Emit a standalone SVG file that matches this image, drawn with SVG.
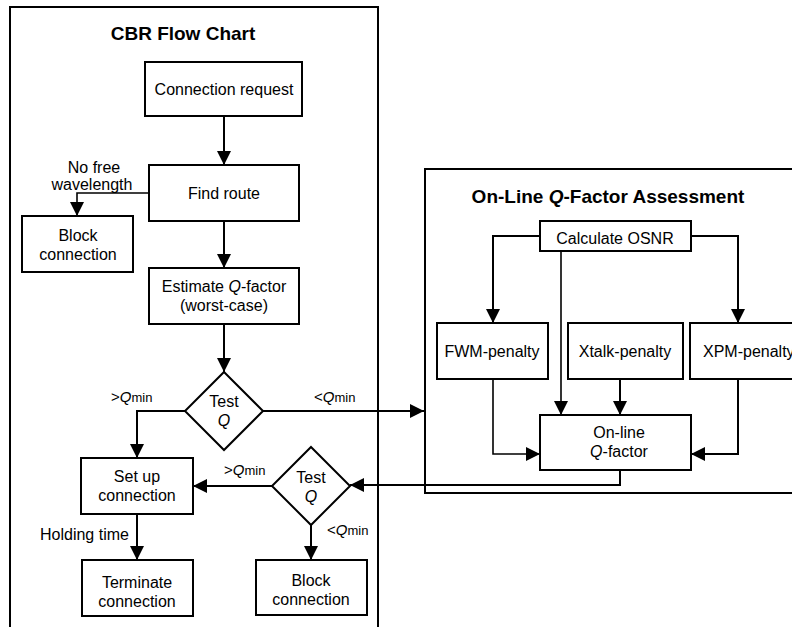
<svg xmlns="http://www.w3.org/2000/svg" width="792" height="627" viewBox="0 0 792 627">
<style>
.bx{fill:#fff;stroke:#000;stroke-width:2}
.fr{fill:none;stroke:#000;stroke-width:2}
.c{fill:none;stroke:#000;stroke-width:2;marker-end:url(#ah)}
.ct{fill:none;stroke:#000;stroke-width:1.6;marker-end:url(#ah)}
text{font-family:"Liberation Sans",Arial,sans-serif;font-size:16px;fill:#000}
.m{text-anchor:middle}
.t{font-weight:bold;font-size:19px}
.s{font-size:15px}
.sub{font-size:13px}
</style>
<defs>
<marker id="ah" markerUnits="userSpaceOnUse" markerWidth="16" markerHeight="14" refX="14" refY="7" orient="auto">
<path d="M0,0 L14,7 L0,14 Z" fill="#000"/>
</marker>
</defs>
<rect width="792" height="627" fill="#fff"/>
<g id="frames">
<path class="fr" d="M10,627 V7 H378 V627"/>
<path class="fr" d="M800,169 H425 V493 H800"/>
<text class="m t" x="183" y="40">CBR Flow Chart</text>
<text class="m t" x="608" y="203">On-Line <tspan font-style="italic">Q</tspan>-Factor Assessment</text>
</g>
<g id="connectors">
<path class="c" d="M224,116 V165"/>
<path class="ct" d="M149,193 H77 V216"/>
<path class="c" d="M224,221 V268"/>
<path class="c" d="M224,324 V372"/>
<path class="c" d="M185,411 H137 V458"/>
<path class="c" d="M263,411 H424"/>
<path class="c" d="M272,486 H193"/>
<path class="c" d="M311,525 V560"/>
<path class="c" d="M137,514 V560"/>
<path class="c" d="M540,236 H493 V323"/>
<path class="c" d="M691,236 H738 V323"/>
<path class="ct" d="M561,251 V415"/>
<path class="c" d="M620,379 V415"/>
<path class="ct" d="M493,379 V454 H540"/>
<path class="c" d="M738,379 V454 H691"/>
<path class="c" d="M620,470 V485 H350"/>
<text class="m" x="94" y="173">No free</text>
<text class="m" x="92" y="190">wavelength</text>
<text class="s" x="111" y="402">&gt;<tspan font-style="italic">Q</tspan><tspan class="sub">min</tspan></text>
<text class="s" x="314" y="402">&lt;<tspan font-style="italic">Q</tspan><tspan class="sub">min</tspan></text>
<text class="s" x="224" y="475">&gt;<tspan font-style="italic">Q</tspan><tspan class="sub">min</tspan></text>
<text class="s" x="327" y="535">&lt;<tspan font-style="italic">Q</tspan><tspan class="sub">min</tspan></text>
<text x="40" y="540">Holding time</text>
</g>
<g id="connection-request">
<rect class="bx" x="145" y="62" width="157" height="54"/>
<text class="m" x="224" y="95">Connection request</text>
</g>
<g id="find-route">
<rect class="bx" x="149" y="165" width="150" height="56"/>
<text class="m" x="224" y="199">Find route</text>
</g>
<g id="block-connection-1">
<rect class="bx" x="22" y="216" width="111" height="56"/>
<text class="m" x="78" y="241">Block</text>
<text class="m" x="78" y="260">connection</text>
</g>
<g id="estimate-q">
<rect class="bx" x="149" y="268" width="150" height="56"/>
<text class="m" x="224" y="292">Estimate <tspan font-style="italic">Q</tspan>-factor</text>
<text class="m" x="224" y="311">(worst-case)</text>
</g>
<g id="test-q-1">
<path class="bx" d="M224,372 L263,411 L224,450 L185,411 Z"/>
<text class="m" x="224" y="407">Test</text>
<text class="m" x="224" y="426" font-style="italic">Q</text>
</g>
<g id="set-up-connection">
<rect class="bx" x="81" y="458" width="112" height="56"/>
<text class="m" x="137" y="482">Set up</text>
<text class="m" x="137" y="501">connection</text>
</g>
<g id="test-q-2">
<path class="bx" d="M311,447 L350,486 L311,525 L272,486 Z"/>
<text class="m" x="311" y="483">Test</text>
<text class="m" x="311" y="502" font-style="italic">Q</text>
</g>
<g id="terminate-connection">
<rect class="bx" x="82" y="560" width="111" height="56"/>
<text class="m" x="137" y="588">Terminate</text>
<text class="m" x="137" y="607">connection</text>
</g>
<g id="block-connection-2">
<rect class="bx" x="256" y="560" width="111" height="55"/>
<text class="m" x="311" y="586">Block</text>
<text class="m" x="311" y="605">connection</text>
</g>
<g id="calculate-osnr">
<rect class="bx" x="540" y="221" width="151" height="30"/>
<text class="m" x="615" y="244">Calculate OSNR</text>
</g>
<g id="fwm-penalty">
<rect class="bx" x="437" y="323" width="111" height="56"/>
<text class="m" x="492" y="357">FWM-penalty</text>
</g>
<g id="xtalk-penalty">
<rect class="bx" x="568" y="323" width="115" height="56"/>
<text class="m" x="625" y="357">Xtalk-penalty</text>
</g>
<g id="xpm-penalty">
<rect class="bx" x="690" y="323" width="120" height="56"/>
<text x="703" y="357">XPM-penalty</text>
</g>
<g id="online-q-factor">
<rect class="bx" x="540" y="415" width="151" height="55"/>
<text class="m" x="619" y="438">On-line</text>
<text class="m" x="619" y="457"><tspan font-style="italic">Q</tspan>-factor</text>
</g>
</svg>
